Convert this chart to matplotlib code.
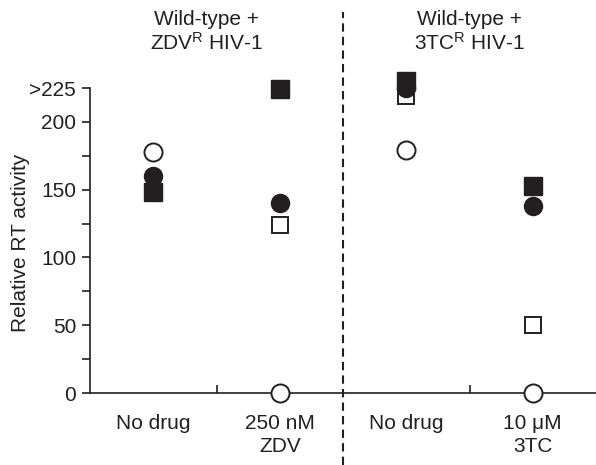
import numpy as np
import matplotlib
matplotlib.use("Agg")
import matplotlib.pyplot as plt
import matplotlib.transforms as mtransforms
from matplotlib.lines import Line2D

plt.rcParams['font.family'] = ['Liberation Sans', 'DejaVu Sans']
plt.rcParams['mathtext.fontset'] = 'custom'
plt.rcParams['mathtext.rm'] = 'Liberation Sans'
plt.rcParams['mathtext.it'] = 'Liberation Sans:italic'
plt.rcParams['mathtext.bf'] = 'Liberation Sans:bold'

# data
categories = ["No drug", "250 nM\nZDV", "No drug", "10 \u03bcM\n3TC"]
open_square = [np.nan, 124, 219, 50]
filled_circle = [160, 140, 225, 138]
filled_square = [148, 224, 230, 153]
open_circle = [178, 0, 179, 0]

group_titles = ["Wild-type +\nZDV$^{\\mathrm{R}}$ HIV-1", "Wild-type +\n3TC$^{\\mathrm{R}}$ HIV-1"]
group_title_x = [0.42, 2.5]

yticks = [0, 50, 100, 150, 200, 225]
ytick_labels = ["0", "50", "100", "150", "200", ">225"]
yminor = [25, 75, 125, 175]

ink = "#231f20"
fs = 15

fig = plt.figure(figsize=(5.96, 4.65), dpi=100)
ax = fig.add_axes([90 / 596, 72 / 465, 506 / 596, 305 / 465])

x = np.arange(len(categories))
ax.plot(x, open_square, 's', ms=12, mfc='white', mec=ink, mew=1.4, clip_on=False, zorder=3)
ax.plot(x, filled_circle, 'o', ms=13, mfc=ink, mec=ink, clip_on=False, zorder=4)
ax.plot(x, filled_square, 's', ms=12.5, mfc=ink, mec=ink, clip_on=False, zorder=5)
ax.plot(x, open_circle, 'o', ms=13, mfc='white', mec=ink, mew=1.4, clip_on=False, zorder=6)

ax.set_xlim(-0.5, 3.5)
ax.set_ylim(0, 225)
for s in ['top', 'right']:
    ax.spines[s].set_visible(False)
for s in ['left', 'bottom']:
    ax.spines[s].set_linewidth(1.2)
    ax.spines[s].set_color(ink)

ax.set_xticks(x)
ax.set_xticklabels(categories, fontsize=fs, color=ink, linespacing=1.3, va='top')
ax.set_xticks([0.5, 2.5], minor=True)
ax.tick_params(axis='x', which='major', length=0, pad=15)
ax.tick_params(axis='x', which='minor', direction='in', length=6, width=1.2, color=ink)

ax.set_yticks(yticks)
ax.set_yticklabels(ytick_labels, fontsize=fs, color=ink)
ax.set_yticks(yminor, minor=True)
ax.tick_params(axis='y', which='both', direction='out', length=6, width=1.2, color=ink, pad=4)

fig.text(21 / 596, 1 - 243 / 465, "Relative RT activity", rotation=90,
         ha='center', va='center', fontsize=fs, color=ink)

trans = mtransforms.blended_transform_factory(ax.transData, fig.transFigure)
for t, tx in zip(group_titles, group_title_x):
    ax.text(tx, 1 - 32 / 465, t, transform=trans, ha='center', va='center',
            fontsize=fs, color=ink, linespacing=1.2)

fig.add_artist(Line2D([343 / 596, 343 / 596], [0, 1 - 12 / 465], transform=fig.transFigure,
                      color=ink, lw=1.5, linestyle=(0, (4, 2.5))))

fig.savefig("out.png", dpi=100)
